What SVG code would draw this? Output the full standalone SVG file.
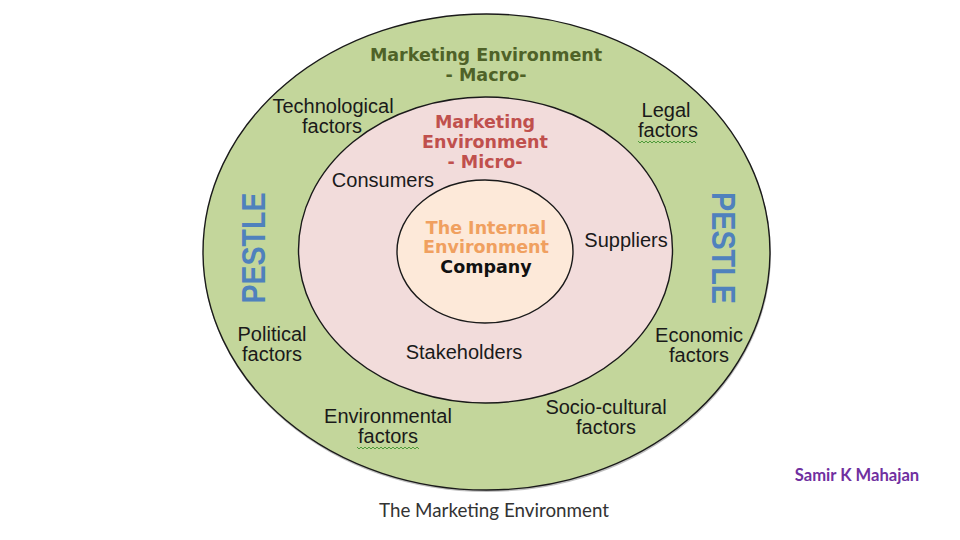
<svg xmlns="http://www.w3.org/2000/svg" width="960" height="540" viewBox="0 0 960 540">
<defs>
<style>
.ring{stroke:#1a1a1a;stroke-width:1.4}
.lbl{font-family:"Liberation Sans",Arial,sans-serif;font-size:20px;fill:#1a1a1a;text-anchor:middle}
.hdr{font-family:"DejaVu Sans",Verdana,sans-serif;font-weight:bold;font-size:17.5px;text-anchor:middle}
.pestle{font-family:"Liberation Sans",Arial,sans-serif;font-weight:bold;font-size:34px;fill:#4f81bd;text-anchor:middle}
.squig{fill:none;stroke:#4e9a3a;stroke-width:1}
</style>
</defs>
<rect width="960" height="540" fill="#ffffff"/>
<g id="macro">
<ellipse cx="487" cy="254" rx="284" ry="238" fill="#000" opacity="0.25"/>
<ellipse class="ring" cx="486.5" cy="252" rx="283.5" ry="238" fill="#c3d69b"/>
<text class="hdr" x="486" y="61" fill="#4f6228">Marketing Environment</text>
<text class="hdr" x="486" y="81" fill="#4f6228">- Macro-</text>
<text class="pestle" transform="translate(265,248) rotate(-90)" textLength="111" lengthAdjust="spacingAndGlyphs">PESTLE</text>
<text class="pestle" transform="translate(712,248) rotate(90)" textLength="112" lengthAdjust="spacingAndGlyphs">PESTLE</text>
</g>
<g id="technological">
<text class="lbl" x="333" y="113">Technological</text>
<text class="lbl" x="332" y="133">factors</text>
</g>
<g id="legal">
<text class="lbl" x="666" y="117">Legal</text>
<text class="lbl" x="668" y="137">factors</text>
<path class="squig" d="M638 141 l2 2 l2 -2 l2 2 l2 -2 l2 2 l2 -2 l2 2 l2 -2 l2 2 l2 -2 l2 2 l2 -2 l2 2 l2 -2 l2 2 l2 -2 l2 2 l2 -2 l2 2 l2 -2 l2 2 l2 -2 l2 2 l2 -2 l2 2 l2 -2 l2 2 l2 -2 l2 2"/>
</g>
<g id="political">
<text class="lbl" x="272" y="341">Political</text>
<text class="lbl" x="272" y="361">factors</text>
</g>
<g id="economic">
<text class="lbl" x="699" y="342">Economic</text>
<text class="lbl" x="699" y="362">factors</text>
</g>
<g id="environmental">
<text class="lbl" x="388" y="423">Environmental</text>
<text class="lbl" x="388" y="443">factors</text>
<path class="squig" d="M357 447 l2 2 l2 -2 l2 2 l2 -2 l2 2 l2 -2 l2 2 l2 -2 l2 2 l2 -2 l2 2 l2 -2 l2 2 l2 -2 l2 2 l2 -2 l2 2 l2 -2 l2 2 l2 -2 l2 2 l2 -2 l2 2 l2 -2 l2 2 l2 -2 l2 2 l2 -2 l2 2 l2 -2 l2 2"/>
</g>
<g id="sociocultural">
<text class="lbl" x="606" y="414">Socio-cultural</text>
<text class="lbl" x="606" y="434">factors</text>
</g>
<g id="micro">
<ellipse class="ring" cx="485.5" cy="250" rx="187" ry="153" fill="#f2dcdb"/>
<text class="hdr" x="485" y="128" fill="#c0504d">Marketing</text>
<text class="hdr" x="485" y="148" fill="#c0504d">Environment</text>
<text class="hdr" x="485" y="168" fill="#c0504d">- Micro-</text>
</g>
<g id="consumers"><text class="lbl" x="383" y="187">Consumers</text></g>
<g id="suppliers"><text class="lbl" x="626" y="247">Suppliers</text></g>
<g id="stakeholders"><text class="lbl" x="464" y="359">Stakeholders</text></g>
<g id="internal">
<ellipse class="ring" cx="485" cy="251.5" rx="88" ry="71.5" fill="#fde9d9"/>
<text class="hdr" x="486" y="234" fill="#f0a060">The Internal</text>
<text class="hdr" x="486" y="253" fill="#f0a060">Environment</text>
<text class="hdr" x="486" y="273" fill="#111">Company</text>
</g>
<g id="connectors"></g>
<text x="494" y="517" font-family="Lato,'Open Sans',sans-serif" font-size="18.8" fill="#333" text-anchor="middle">The Marketing Environment</text>
<text x="857" y="481" font-family="Lato,'Open Sans',sans-serif" font-size="16.6" font-weight="bold" fill="#7030a0" text-anchor="middle">Samir K Mahajan</text>
</svg>
